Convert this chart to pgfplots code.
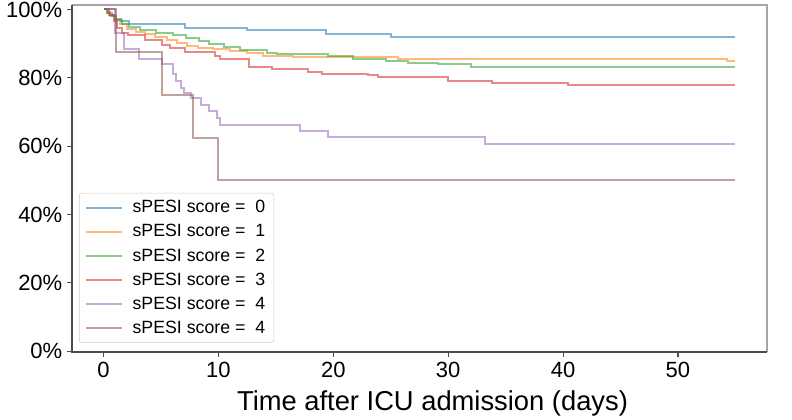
\documentclass[border=0pt]{standalone}
\usepackage{fontspec}
\setmainfont{Liberation Sans}
\usepackage{pgfplots}
\pgfplotsset{compat=1.18}
\definecolor{tabblue}{HTML}{1F77B4}
\definecolor{taborange}{HTML}{FF7F0E}
\definecolor{tabgreen}{HTML}{2CA02C}
\definecolor{tabred}{HTML}{D62728}
\definecolor{tabpurple}{HTML}{9467BD}
\definecolor{tabbrown}{HTML}{8C564B}
\begin{document}
\begin{tikzpicture}
\begin{axis}[
  name=ax,
  scale only axis,
  width=521.25pt, height=260.25pt,
  xmin=-2.75, xmax=57.75,
  ymin=-0.2, ymax=101.3,
  axis line style={draw=none},
  tick align=outside,
  xtick pos=left, ytick pos=left,
  major tick length=3.75pt,
  tick style={color=black!70, line width=0.8pt},
  xtick={0,10,20,30,40,50},
  ytick={0,20,40,60,80,100},
  yticklabels={0\%,20\%,40\%,60\%,80\%,100\%},
  /pgf/number format/assume math mode=true,
  ticklabel style={font=\fontsize{16.5}{18}\selectfont},
  xlabel={Time after ICU admission (days)},
  xlabel style={font=\fontsize{20.5}{22}\selectfont, yshift=-3pt, xshift=9.75pt},
  legend cell align=left,
  legend style={at={(0.0101,0.026)}, anchor=south west,
    draw=black!20, rounded corners=2pt, fill=white,
    font=\fontsize{13.3}{15}\selectfont,
    row sep=3.3pt, column sep=5pt, inner xsep=4.5pt, inner ysep=3.5pt},
  legend image code/.code={\draw[#1] (0pt,0pt) -- (27pt,0pt);},
  every axis plot/.append style={const plot, line width=1.5pt, opacity=0.55},
]
\addplot[tabblue] coordinates {(0,100)(0.3,99.2)(0.6,98.3)(1.0,97.3)(1.5,96.5)(2.2,95.7)(7.1,94.6)(12.5,93.9)(19.4,92.9)(25,91.8)(55,91.8)};
\addlegendentry{sPESI score = \ 0}
\addplot[taborange] coordinates {(0,100)(0.3,99)(0.6,98)(1.0,96.8)(1.4,95.6)(2.0,94.3)(2.8,93.5)(3.6,92.7)(4.5,91.9)(5.5,91.0)(6.4,90.2)(7.3,89.4)(8.2,88.8)(9.5,88.3)(11,87.8)(12.5,87.2)(13.9,86.4)(16.5,86.0)(25.6,85.4)(54.3,84.8)(55,84.8)};
\addlegendentry{sPESI score = \ 1}
\addplot[tabgreen] coordinates {(0,100)(0.3,99)(0.7,98)(1.1,96.8)(1.6,95.8)(2.2,94.8)(3.2,94.0)(4.6,93.1)(6.0,92.4)(7.2,91.7)(8.3,90.8)(9.2,90.0)(10.5,89.0)(11.9,88.2)(14.2,87.3)(15.1,86.9)(19.5,86.4)(21.7,85.4)(24.6,84.9)(26.5,84.4)(29.1,83.9)(32,83.1)(55,83.1)};
\addlegendentry{sPESI score = \ 2}
\addplot[tabred] coordinates {(0,100)(0.5,98.5)(0.9,96.5)(1.2,94.5)(1.6,93.2)(2.1,92.4)(3.6,91.0)(5.1,89.6)(5.8,88.6)(7.1,87.5)(9.7,86.5)(10.1,85.4)(12.7,83.3)(14.7,82.6)(17.8,81.8)(19,81.2)(23,80.7)(23.9,80.1)(30,79.0)(33.8,78.4)(40.4,77.8)(55,77.8)};
\addlegendentry{sPESI score = \ 3}
\addplot[tabpurple] coordinates {(0,100)(1.0,93)(1.8,88.5)(3.1,85.6)(5.1,84.0)(6.0,81)(6.3,79)(6.7,77)(7.0,75.5)(7.6,74)(8.5,72)(9.2,70.3)(9.9,68.3)(10.1,66.3)(17.1,64.5)(19.5,62.6)(33.2,60.7)(55,60.7)};
\addlegendentry{sPESI score = \ 4}
\addplot[tabbrown] coordinates {(0,100)(1.1,87.5)(5.1,75)(7.8,62.5)(10,50)(55,50)};
\addlegendentry{sPESI score = \ 4}
\end{axis}
\draw[black!35, line width=1pt] (ax.south east) -- (ax.north east) -- (ax.north west);
\draw[black!70, line width=1pt] (ax.north west) -- (ax.south west) -- (ax.south east);
\pgfresetboundingbox
\path ([xshift=-54pt,yshift=-51pt]ax.south west) rectangle ([xshift=18.75pt,yshift=3.75pt]ax.north east);
\end{tikzpicture}
\end{document}
